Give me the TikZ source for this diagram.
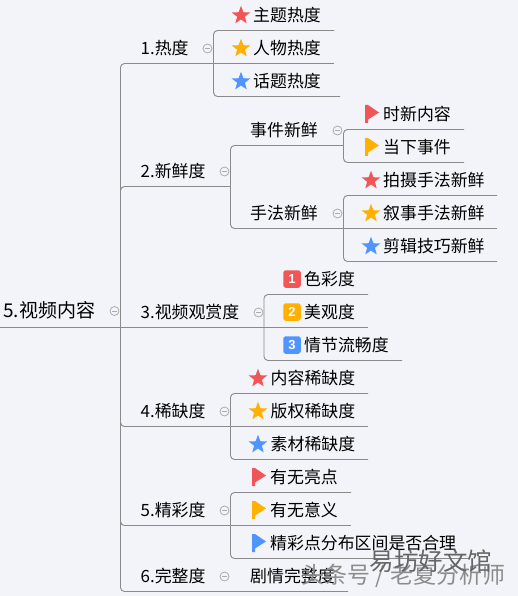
\documentclass[tikz,border=0pt]{standalone}
\usepackage{fontspec}
\setmainfont{Noto Sans CJK SC}
\newfontfamily\latinf{Liberation Sans}
\usetikzlibrary{shapes.geometric}
\definecolor{bgc}{HTML}{F3F4FA}
\definecolor{linec}{HTML}{8A8A8A}
\definecolor{redc}{HTML}{F25555}
\definecolor{orangec}{HTML}{FFB000}
\definecolor{bluec}{HTML}{4F94FF}
\definecolor{foldc}{HTML}{ABABAB}
\definecolor{wmac}{HTML}{666666}
\definecolor{wmbc}{HTML}{8C8C8C}
\newcommand{\foldmark}[2]{%
  \node[foldnode] (#1) at (#2) {};
  \draw[foldc,line width=0.9pt] ([xshift=-2.5pt]#1.center) -- ([xshift=2.5pt]#1.center);}
\newcommand{\stargl}[3]{\node[stargl,fill=#3] (#1) at (#2) {};}
\newcommand{\flaggl}[3]{%
  \coordinate (#1) at (#2);
  \fill[#3] ([shift={(-6.5,-9)}]#1) -- ([shift={(-3.5,-9)}]#1) -- ([shift={(7.5,-1.5)}]#1) -- ([shift={(-3.5,5.5)}]#1) -- ([shift={(-3.5,9)}]#1) -- ([shift={(-6.5,9)}]#1) -- cycle;}
\tikzset{
  link/.style={draw=linec,line width=0.9pt,rounded corners=4pt},
  plain/.style={draw=linec,line width=0.9pt},
  txt/.style={anchor=west,inner sep=0pt,font=\fontsize{16.9}{18}\selectfont,text=black},
  roottxt/.style={anchor=west,inner sep=0pt,font=\fontsize{19}{21}\selectfont,text=black},
  foldnode/.style={circle,draw=foldc,line width=0.8pt,minimum size=9pt,inner sep=0pt},
  stargl/.style={star,star points=5,star point ratio=2.4,minimum size=19.5pt,inner sep=0pt,draw=none},
  badge/.style={rounded corners=2.5pt,minimum size=17.5pt,inner sep=0pt,text=white,font=\latinf\bfseries\fontsize{13}{13}\selectfont},
  wma/.style={anchor=center,inner sep=0pt,text=wmac,font=\fontsize{24.5}{25}\selectfont},
  wmb/.style={anchor=center,inner sep=0pt,text=wmbc,font=\fontsize{23}{25}\selectfont},
}
\begin{document}
\begin{tikzpicture}[x=1pt,y=-1pt]
\useasboundingbox (0,0) rectangle (518,596);
\fill[bgc] (0,0) rectangle (518,596);
% texts
\node[roottxt] (root) at (3,310) {5.视频内容};
\node[txt] (t1) at (140.5,48) {1.热度};
\node[txt] (t2) at (140.5,171) {2.新鲜度};
\node[txt] (t3) at (140.5,312) {3.视频观赏度};
\node[txt] (t4) at (140.5,411) {4.稀缺度};
\node[txt] (t5) at (140.5,510) {5.精彩度};
\node[txt] (t6) at (140.5,576) {6.完整度};
\node[txt] (a1) at (253,15) {主题热度};
\node[txt] (a2) at (253,48) {人物热度};
\node[txt] (a3) at (253,81) {话题热度};
\node[txt] (b1) at (250,130) {事件新鲜};
\node[txt] (b2) at (250,213) {手法新鲜};
\node[txt] (c1) at (383,114) {时新内容};
\node[txt] (c2) at (383,147) {当下事件};
\node[txt] (d1) at (383,180) {拍摄手法新鲜};
\node[txt] (d2) at (383,213) {叙事手法新鲜};
\node[txt] (d3) at (383,246) {剪辑技巧新鲜};
\node[txt] (e1) at (304,279) {色彩度};
\node[txt] (e2) at (304,312) {美观度};
\node[txt] (e3) at (304,345) {情节流畅度};
\node[txt] (f1) at (270.5,378) {内容稀缺度};
\node[txt] (f2) at (270.5,411) {版权稀缺度};
\node[txt] (f3) at (270.5,444) {素材稀缺度};
\node[txt] (g1) at (270,477) {有无亮点};
\node[txt] (g2) at (270,510) {有无意义};
\node[txt] (g3) at (270,543) {精彩点分布区间是否合理};
\node[txt] (h1) at (250,576) {剧情完整度};
% connector points
\coordinate (rs) at (0,327.5);
\coordinate (tr) at (120.5,327.5);
\coordinate (l1) at (213.5,63.5);
\coordinate (l2) at (230.5,186.5);
\coordinate (l3) at (264,327.5);
\coordinate (l4) at (230.5,426.5);
\coordinate (l5) at (230.5,525.5);
\coordinate (l6) at (348,591.5);
% trunk
\draw[plain] (rs) -- (l3);
\draw[link] (l1) -| (tr);
\draw[link] (l2) -| (tr);
\draw[link] (l4) -| (tr);
\draw[link] (l5) -| (tr);
\draw[link] (l6) -| (tr);
% group 1
\coordinate (p1) at (334,30.5);\coordinate (p2) at (334,63.5);\coordinate (p3) at (340,96.5);
\draw[plain] (l1) -- (p2);
\draw[link] (p1) -| (l1);
\draw[link] (p3) -| (l1);
% group 2
\coordinate (q1) at (343.5,145.5);\coordinate (q2) at (343.5,228.5);
\draw[link] (q1) -| (l2);
\draw[link] (q2) -| (l2);
\coordinate (r1) at (464,129.5);\coordinate (r2) at (464,162.5);
\draw[link] (r1) -| (q1);
\draw[link] (r2) -| (q1);
\coordinate (s1) at (497,195.5);\coordinate (s2) at (497,228.5);\coordinate (s3) at (497,261.5);
\draw[plain] (q2) -- (s2);
\draw[link] (s1) -| (q2);
\draw[link] (s3) -| (q2);
% group 3
\coordinate (u1) at (368,294.5);\coordinate (u2) at (368,327.5);\coordinate (u3) at (402,360.5);
\draw[plain] (l3) -- (u2);
\draw[link] (u1) -| (l3);
\draw[link] (u3) -| (l3);
% group 4
\coordinate (v1) at (368,393.5);\coordinate (v2) at (368,426.5);\coordinate (v3) at (368,459.5);
\draw[plain] (l4) -- (v2);
\draw[link] (v1) -| (l4);
\draw[link] (v3) -| (l4);
% group 5
\coordinate (w1) at (351,492.5);\coordinate (w2) at (351,525.5);\coordinate (w3) at (468,558.5);
\draw[plain] (l5) -- (w2);
\draw[link] (w1) -| (l5);
\draw[link] (w3) -| (l5);
% fold marks
\foldmark{k0}{114.5,311}
\foldmark{k1}{207.5,48.5}
\foldmark{k2}{224.5,171.5}
\foldmark{k3}{337.5,130.5}
\foldmark{k4}{337.5,213.5}
\foldmark{k5}{258.5,312.5}
\foldmark{k6}{224.5,411.5}
\foldmark{k7}{224.5,510.5}
\foldmark{k8}{224.5,576.5}
% icons
\stargl{i1}{241,15.5}{redc}
\stargl{i2}{241,48.5}{orangec}
\stargl{i3}{241,81.5}{bluec}
\flaggl{i4}{371.5,114}{redc}
\flaggl{i5}{371.5,147}{orangec}
\stargl{i6}{371,180.5}{redc}
\stargl{i7}{371,213.5}{orangec}
\stargl{i8}{371,246.5}{bluec}
\node[badge,fill=redc] (n1) at (292,279) {1};
\node[badge,fill=orangec] (n2) at (292,312) {2};
\node[badge,fill=bluec] (n3) at (292,345) {3};
\stargl{i9}{258,378.5}{redc}
\stargl{i10}{258,411.5}{orangec}
\stargl{i11}{258,444.5}{bluec}
\flaggl{i12}{258.5,477}{redc}
\flaggl{i13}{258.5,510}{orangec}
\flaggl{i14}{258.5,543}{bluec}
% watermark
\node[wmb] (wb) at (403.5,576) {头条号 / 老夏分析师};
\node[wma] (wa) at (431,561) {易坊好文馆};
\end{tikzpicture}
\end{document}
